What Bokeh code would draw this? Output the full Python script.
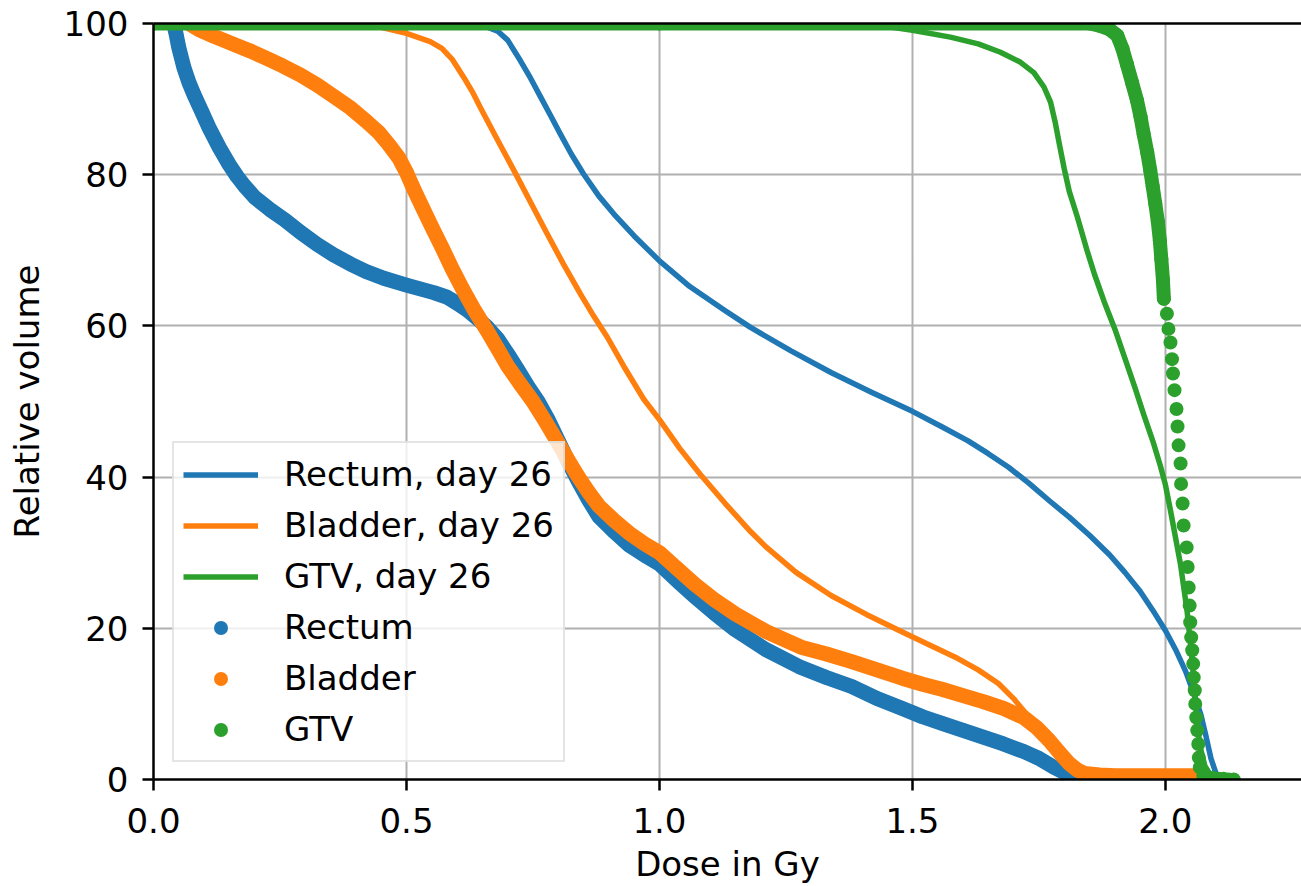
from bokeh.plotting import figure
from bokeh.models import (Range1d, FixedTicker, PrintfTickFormatter, LinearAxis,
                          Legend, LegendItem)
from bokeh.embed import file_html
from bokeh.resources import INLINE

# ---------------- data ----------------
x_ticks = [0.0, 0.5, 1.0, 1.5, 2.0]
y_ticks = [0, 20, 40, 60, 80, 100]

# Day-26 DVH lines
rectum_d26_dose = [0.0, 0.62, 0.66, 0.68, 0.70, 0.725, 0.745, 0.765, 0.785, 0.804, 0.826, 0.85,
                   0.88, 0.91, 0.95, 1.0, 1.06, 1.13, 1.18, 1.26, 1.34, 1.42, 1.50, 1.56, 1.61,
                   1.65, 1.69, 1.73, 1.77, 1.81, 1.85, 1.89, 1.92, 1.95, 1.975, 2.0, 2.02, 2.04,
                   2.05, 2.06, 2.07, 2.08, 2.09, 2.10, 2.115]
rectum_d26_vol = [100, 100, 99.5, 99.0, 97.8, 95.1, 92.8, 90.3, 87.8, 85.4, 82.7, 80.1,
                  77.2, 74.8, 71.9, 68.6, 65.2, 62.0, 59.8, 56.7, 53.8, 51.2, 48.7, 46.6, 44.8,
                  43.1, 41.3, 39.2, 36.9, 34.7, 32.3, 29.7, 27.4, 24.9, 22.4, 19.7, 17.2, 14.3,
                  12.5, 10.6, 8.6, 5.8, 2.8, 0.8, 0.0]

bladder_d26_dose = [0.0, 0.38, 0.45, 0.50, 0.547, 0.57, 0.59, 0.613, 0.63, 0.646, 0.68, 0.712,
                    0.745, 0.778, 0.81, 0.844, 0.87, 0.897, 0.93, 0.969, 1.0, 1.04, 1.08, 1.13,
                    1.18, 1.21, 1.27, 1.34, 1.41, 1.48, 1.54, 1.59, 1.63, 1.67, 1.70, 1.72,
                    1.745, 1.77, 1.79, 1.81, 1.84, 1.88, 2.07]
bladder_d26_vol = [100, 100, 99.5, 98.7, 97.6, 96.7, 95.3, 92.9, 91.0, 88.9, 84.6, 80.6,
                   76.4, 72.2, 68.2, 64.2, 61.3, 58.5, 54.6, 50.3, 47.6, 43.8, 40.4, 36.5,
                   32.8, 30.8, 27.4, 24.3, 21.8, 19.5, 17.6, 16.0, 14.5, 12.7, 10.7, 9.1,
                   7.0, 4.6, 2.8, 1.6, 0.7, 0.5, 0.5]

gtv_d26_dose = [0.0, 1.40, 1.45, 1.50, 1.575, 1.63, 1.674, 1.713, 1.74, 1.76, 1.773, 1.782,
                1.79, 1.80, 1.81, 1.826, 1.845, 1.86, 1.879, 1.90, 1.918, 1.94, 1.957, 1.975,
                1.99, 2.0, 2.01, 2.02, 2.03, 2.043, 2.053, 2.06, 2.068, 2.078, 2.09, 2.105]
gtv_d26_vol = [100, 100, 99.6, 99.1, 98.2, 97.3, 96.2, 94.9, 93.5, 91.6, 89.6, 87.0,
               84.2, 80.8, 77.8, 74.4, 70.0, 66.8, 63.2, 59.6, 56.1, 51.8, 48.3, 44.8,
               41.5, 39.0, 35.6, 32.0, 28.4, 22.2, 15.7, 9.8, 4.5, 1.8, 0.5, 0.0]

# Planning DVH points (scatter)
rectum_dose = [0.04, 0.045, 0.05, 0.06, 0.07, 0.08, 0.095, 0.11, 0.13, 0.15, 0.165, 0.18, 0.20,
               0.23, 0.26, 0.29, 0.323, 0.356, 0.389, 0.42, 0.455, 0.50, 0.554, 0.58, 0.60,
               0.62, 0.64, 0.66, 0.68, 0.70, 0.72, 0.74, 0.76, 0.78, 0.80, 0.82, 0.84, 0.86,
               0.88, 0.91, 0.94, 0.97, 1.00, 1.04, 1.07, 1.11, 1.15, 1.21, 1.28, 1.33, 1.38,
               1.43, 1.48, 1.52, 1.56, 1.60, 1.64, 1.68, 1.72, 1.75, 1.78, 1.81, 1.83]
rectum_vol = [100, 98.5, 96.8, 94.2, 92.2, 90.6, 88.4, 86.2, 83.6, 81.3, 79.8, 78.5, 77.0,
              75.4, 74.0, 72.4, 70.8, 69.4, 68.2, 67.2, 66.3, 65.4, 64.4, 63.8, 63.0,
              62.1, 61.0, 59.8, 58.3, 56.3, 54.2, 52.0, 50.0, 47.6, 44.8, 42.0, 39.4, 37.0,
              34.8, 32.8, 31.0, 29.7, 28.5, 26.0, 24.2, 21.9, 19.8, 17.2, 14.8, 13.5, 12.3,
              10.7, 9.4, 8.3, 7.4, 6.5, 5.6, 4.7, 3.7, 2.8, 1.6, 0.6, 0.0]

bladder_dose = [0.07, 0.09, 0.12, 0.16, 0.19, 0.22, 0.255, 0.29, 0.325, 0.36, 0.39, 0.42, 0.445,
                0.465, 0.485, 0.50, 0.515, 0.53, 0.55, 0.57, 0.59, 0.61, 0.635, 0.66, 0.68,
                0.70, 0.725, 0.75, 0.775, 0.80, 0.82, 0.84, 0.86, 0.88, 0.91, 0.94, 0.97, 1.00,
                1.035, 1.07, 1.11, 1.15, 1.21, 1.28, 1.33, 1.38, 1.43, 1.48, 1.52, 1.56, 1.60,
                1.64, 1.68, 1.72, 1.745, 1.77, 1.79, 1.81, 1.825, 1.84, 1.87, 1.90, 2.00, 2.07]
bladder_vol = [100, 99.2, 98.3, 97.2, 96.4, 95.5, 94.4, 93.2, 91.8, 90.2, 88.8, 87.1, 85.6,
               84.0, 82.2, 80.3, 78.0, 75.9, 73.1, 70.4, 67.6, 65.0, 62.0, 59.3, 57.0,
               54.7, 52.3, 50.0, 47.3, 44.5, 42.2, 40.0, 38.0, 36.2, 34.3, 32.6, 31.2, 30.0,
               27.9, 25.8, 23.7, 21.9, 19.6, 17.5, 16.6, 15.6, 14.5, 13.4, 12.6, 11.9, 11.1,
               10.3, 9.4, 8.2, 6.9, 5.2, 3.6, 2.1, 1.3, 0.8, 0.6, 0.5, 0.5, 0.5]

gtv_dose = [0.0, 0.5, 1.0, 1.5, 1.85, 1.87, 1.89, 1.905, 1.915, 1.924, 1.934, 1.944, 1.951,
            1.957, 1.964, 1.970, 1.975, 1.980, 1.985, 1.989, 1.992, 1.995, 1.997, 2.003, 2.006,
            2.010, 2.013, 2.015, 2.018, 2.022, 2.024, 2.026, 2.030, 2.031, 2.034, 2.036, 2.042,
            2.044, 2.046, 2.048, 2.049, 2.051, 2.053, 2.055, 2.056, 2.058, 2.059, 2.061, 2.063,
            2.065, 2.066, 2.068, 2.075, 2.085, 2.095, 2.105, 2.115, 2.125, 2.135]
gtv_vol = [100, 100, 100, 100, 100, 99.7, 99.2, 98.4, 96.7, 94.6, 92.2, 89.8, 87.6,
           85.4, 83.0, 80.6, 78.4, 76.2, 73.8, 71.3, 68.8, 66.2, 63.6, 61.6, 59.6,
           57.8, 55.6, 53.7, 51.5, 49.0, 46.7, 44.2, 41.8, 39.1, 36.5, 33.6, 30.7,
           28.1, 25.4, 23.0, 20.8, 18.8, 17.1, 15.3, 13.5, 11.8, 10.0, 8.2, 6.5,
           4.7, 2.9, 1.6, 0.5, 0.3, 0.2, 0.1, 0.1, 0.0, 0.0]

# ---------------- styling ----------------
BLUE, ORANGE, GREEN = "#1f77b4", "#ff7f0e", "#2ca02c"
FONT = "DejaVu Sans"
FS = "34px"

p = figure(width=1301, height=886, output_backend="svg", toolbar_location=None,
           x_range=Range1d(0, 2.269), y_range=Range1d(0, 100),
           min_border_left=153, min_border_right=0, min_border_top=23, min_border_bottom=107)
p.outline_line_color = None
p.background_fill_color = "white"
p.border_fill_color = "white"

# grid
for g, t in ((p.xgrid, x_ticks), (p.ygrid, y_ticks)):
    g.ticker = FixedTicker(ticks=t)
    g.grid_line_color = "#b0b0b0"
    g.grid_line_width = 2

# axes
p.xaxis.ticker = FixedTicker(ticks=x_ticks)
p.xaxis.formatter = PrintfTickFormatter(format="%.1f")
p.yaxis.ticker = FixedTicker(ticks=y_ticks)
p.xaxis.axis_label = "Dose in Gy"
p.yaxis.axis_label = "Relative volume"
for ax in (p.xaxis, p.yaxis):
    ax.axis_line_color = "black"
    ax.axis_line_width = 2.5
    ax.major_tick_line_color = "black"
    ax.major_tick_line_width = 2.5
    ax.major_tick_out = 11
    ax.major_tick_in = 0
    ax.minor_tick_line_color = None
    ax.major_label_text_font = FONT
    ax.major_label_text_font_size = FS
    ax.major_label_text_color = "black"
    ax.axis_label_text_font = FONT
    ax.axis_label_text_font_size = FS
    ax.axis_label_text_font_style = "normal"
    ax.axis_label_text_color = "black"
p.xaxis.major_label_standoff = 17
p.xaxis.axis_label_standoff = 8
p.yaxis.major_label_standoff = 14
p.yaxis.axis_label_standoff = 14

top = LinearAxis(ticker=FixedTicker(ticks=[]), axis_line_color="black", axis_line_width=2.5,
                 major_tick_line_color=None, minor_tick_line_color=None,
                 major_tick_out=0, major_label_text_font_size="0px")
p.add_layout(top, "above")

# day-26 lines
LW = 5.5
r_l1 = p.line(rectum_d26_dose, rectum_d26_vol, line_color=BLUE, line_width=LW, line_join="round")
r_l2 = p.line(bladder_d26_dose, bladder_d26_vol, line_color=ORANGE, line_width=LW, line_join="round")
r_l3 = p.line(gtv_d26_dose, gtv_d26_vol, line_color=GREEN, line_width=LW, line_join="round")

# dense scatter series: band + markers
MS = 14
p.line(rectum_dose, rectum_vol, line_color=BLUE, line_width=15,
       line_join="round", line_cap="round")
r_s1 = p.scatter(rectum_dose, rectum_vol, size=MS, fill_color=BLUE, line_color=None)
p.line(bladder_dose, bladder_vol, line_color=ORANGE, line_width=15,
       line_join="round", line_cap="round")
r_s2 = p.scatter(bladder_dose, bladder_vol, size=MS, fill_color=ORANGE, line_color=None)
gtv_band_d = [d for d, v in zip(gtv_dose, gtv_vol) if v >= 62]
gtv_band_v = [v for v in gtv_vol if v >= 62]
p.line(gtv_band_d, gtv_band_v, line_color=GREEN, line_width=14,
       line_join="round", line_cap="round")
r_s3 = p.scatter(gtv_dose, gtv_vol, size=MS, fill_color=GREEN, line_color=None)

legend = Legend(items=[
    LegendItem(label="Rectum, day 26", renderers=[r_l1]),
    LegendItem(label="Bladder, day 26", renderers=[r_l2]),
    LegendItem(label="GTV, day 26", renderers=[r_l3]),
    LegendItem(label="Rectum", renderers=[r_s1]),
    LegendItem(label="Bladder", renderers=[r_s2]),
    LegendItem(label="GTV", renderers=[r_s3]),
], location=(19, 17))
legend.label_text_font = FONT
legend.label_text_font_size = FS
legend.label_text_color = "black"
legend.glyph_width = 75
legend.glyph_height = 35
legend.label_height = 44
legend.label_standoff = 26
legend.spacing = 7
legend.padding = 9
legend.margin = 0
legend.border_line_color = "#cccccc"
legend.border_line_width = 2
legend.background_fill_color = "white"
legend.background_fill_alpha = 0.8
p.add_layout(legend)

open("out.html", "w").write(file_html(p, INLINE))
